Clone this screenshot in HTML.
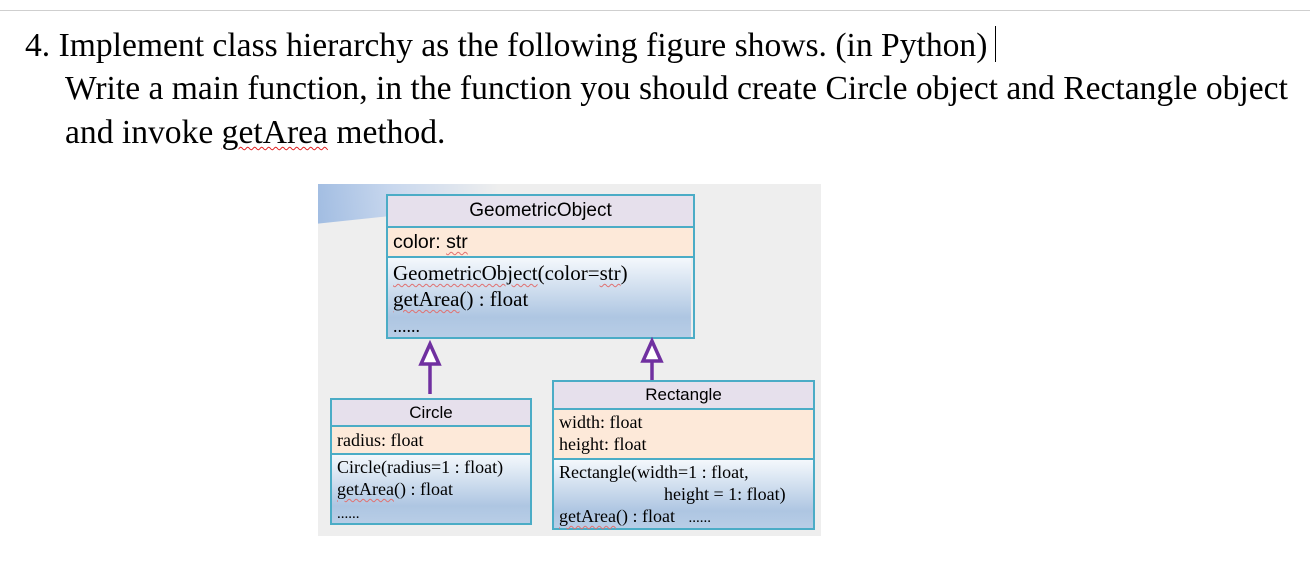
<!DOCTYPE html>
<html><head><meta charset="utf-8"><style>
*{margin:0;padding:0;box-sizing:border-box}
body{width:1310px;height:574px;background:#fff;position:relative;overflow:hidden;font-family:"Liberation Serif",serif;color:#000}
.t{position:absolute;font-size:33.6px;white-space:nowrap;line-height:1}
.bg{position:absolute;left:318px;top:184px;width:503px;height:352px;background:#eeeeee;overflow:hidden}
.box{position:absolute;border:2px solid #4bacc6}
.row{position:absolute;left:0;right:0;border-bottom:2px solid #4bacc6}
.nm{background:#e6e0ec;font-family:"Liberation Sans",sans-serif;text-align:center;font-size:17px}
.at{background:#fde9d9}
.me{background:linear-gradient(#f4f8fc,#aec6e2 75%,#b8cde6);border-bottom:none}
.s{font-family:"Liberation Sans",sans-serif}
.l{position:absolute;left:5px;font-size:18px;white-space:nowrap}
.u{text-decoration:underline wavy #e07070;text-decoration-thickness:1px;text-underline-offset:3px}
</style></head><body>
<div style="position:absolute;left:0;top:10px;width:1310px;height:1px;background:#cfcfcf"></div>
<div class="t" style="left:25px;top:29px">4. Implement class hierarchy as the following figure shows. (in Python)</div>
<div style="position:absolute;left:995px;top:26px;width:1px;height:36px;background:#000"></div>
<div class="t" style="left:65px;top:72px">Write a main function, in the function you should create Circle object and Rectangle object</div>
<div class="t" style="left:65px;top:116px">and invoke <span class="u" style="text-decoration-color:#e02020">getArea</span> method.</div>

<div class="bg">
<div style="position:absolute;left:-40px;top:-10px;width:260px;height:40px;transform:rotate(-6deg);background:linear-gradient(90deg,#8fb0dc 0%,#c9d8ee 45%,rgba(238,238,238,0) 85%)"></div>
</div>

<div class="box" style="left:386px;top:194px;width:309px;height:145px">
 <div class="row nm" style="top:0;height:32px;line-height:30px;font-size:19px">GeometricObject</div>
 <div class="row at" style="top:32px;height:30px"><span class="l s" style="top:3px;font-size:19.5px">color: <span class="u">str</span></span></div>
 <div class="row me" style="top:62px;bottom:0;right:2px">
  <span class="l" style="top:3px;font-size:21px"><span class="u">GeometricObject</span>(color=<span class="u">str</span>)</span>
  <span class="l" style="top:29px;font-size:21px"><span class="u">getArea</span>() : float</span>
  <span class="l" style="top:58px;font-size:18px">......</span>
 </div>
</div>

<svg style="position:absolute;left:0;top:0" width="1310" height="574">
 <g stroke="#7030a0" stroke-width="3.5" fill="#fff">
  <line x1="430" y1="364" x2="430" y2="394"/>
  <polygon points="430,344 421,364 439,364"/>
  <line x1="652" y1="361" x2="652" y2="381"/>
  <polygon points="652,341 643,361 661,361"/>
 </g>
</svg>

<div class="box" style="left:330px;top:398px;width:202px;height:127px">
 <div class="row nm" style="top:0;height:27px;line-height:25px;font-size:17px">Circle</div>
 <div class="row at" style="top:27px;height:28px"><span class="l" style="top:3px">radius: float</span></div>
 <div class="row me" style="top:55px;bottom:0">
  <span class="l" style="top:2px">Circle(radius=1 : float)</span>
  <span class="l" style="top:24px"><span class="u">getArea</span>() : float</span>
  <span class="l" style="top:51px;font-size:15px">......</span>
 </div>
</div>

<div class="box" style="left:552px;top:380px;width:263px;height:150px">
 <div class="row nm" style="top:0;height:28px;line-height:26px;font-size:17px">Rectangle</div>
 <div class="row at" style="top:28px;height:50px"><span class="l" style="top:2px">width: float</span><span class="l" style="top:24px">height: float</span></div>
 <div class="row me" style="top:78px;bottom:0">
  <span class="l" style="top:2px">Rectangle(width=1 : float,</span>
  <span class="l" style="top:24px;left:110px">height = 1: float)</span>
  <span class="l" style="top:46px"><span class="u">getArea</span>() : float &nbsp;&nbsp;<span style="font-size:15px">......</span></span>
 </div>
</div>
</body></html>
